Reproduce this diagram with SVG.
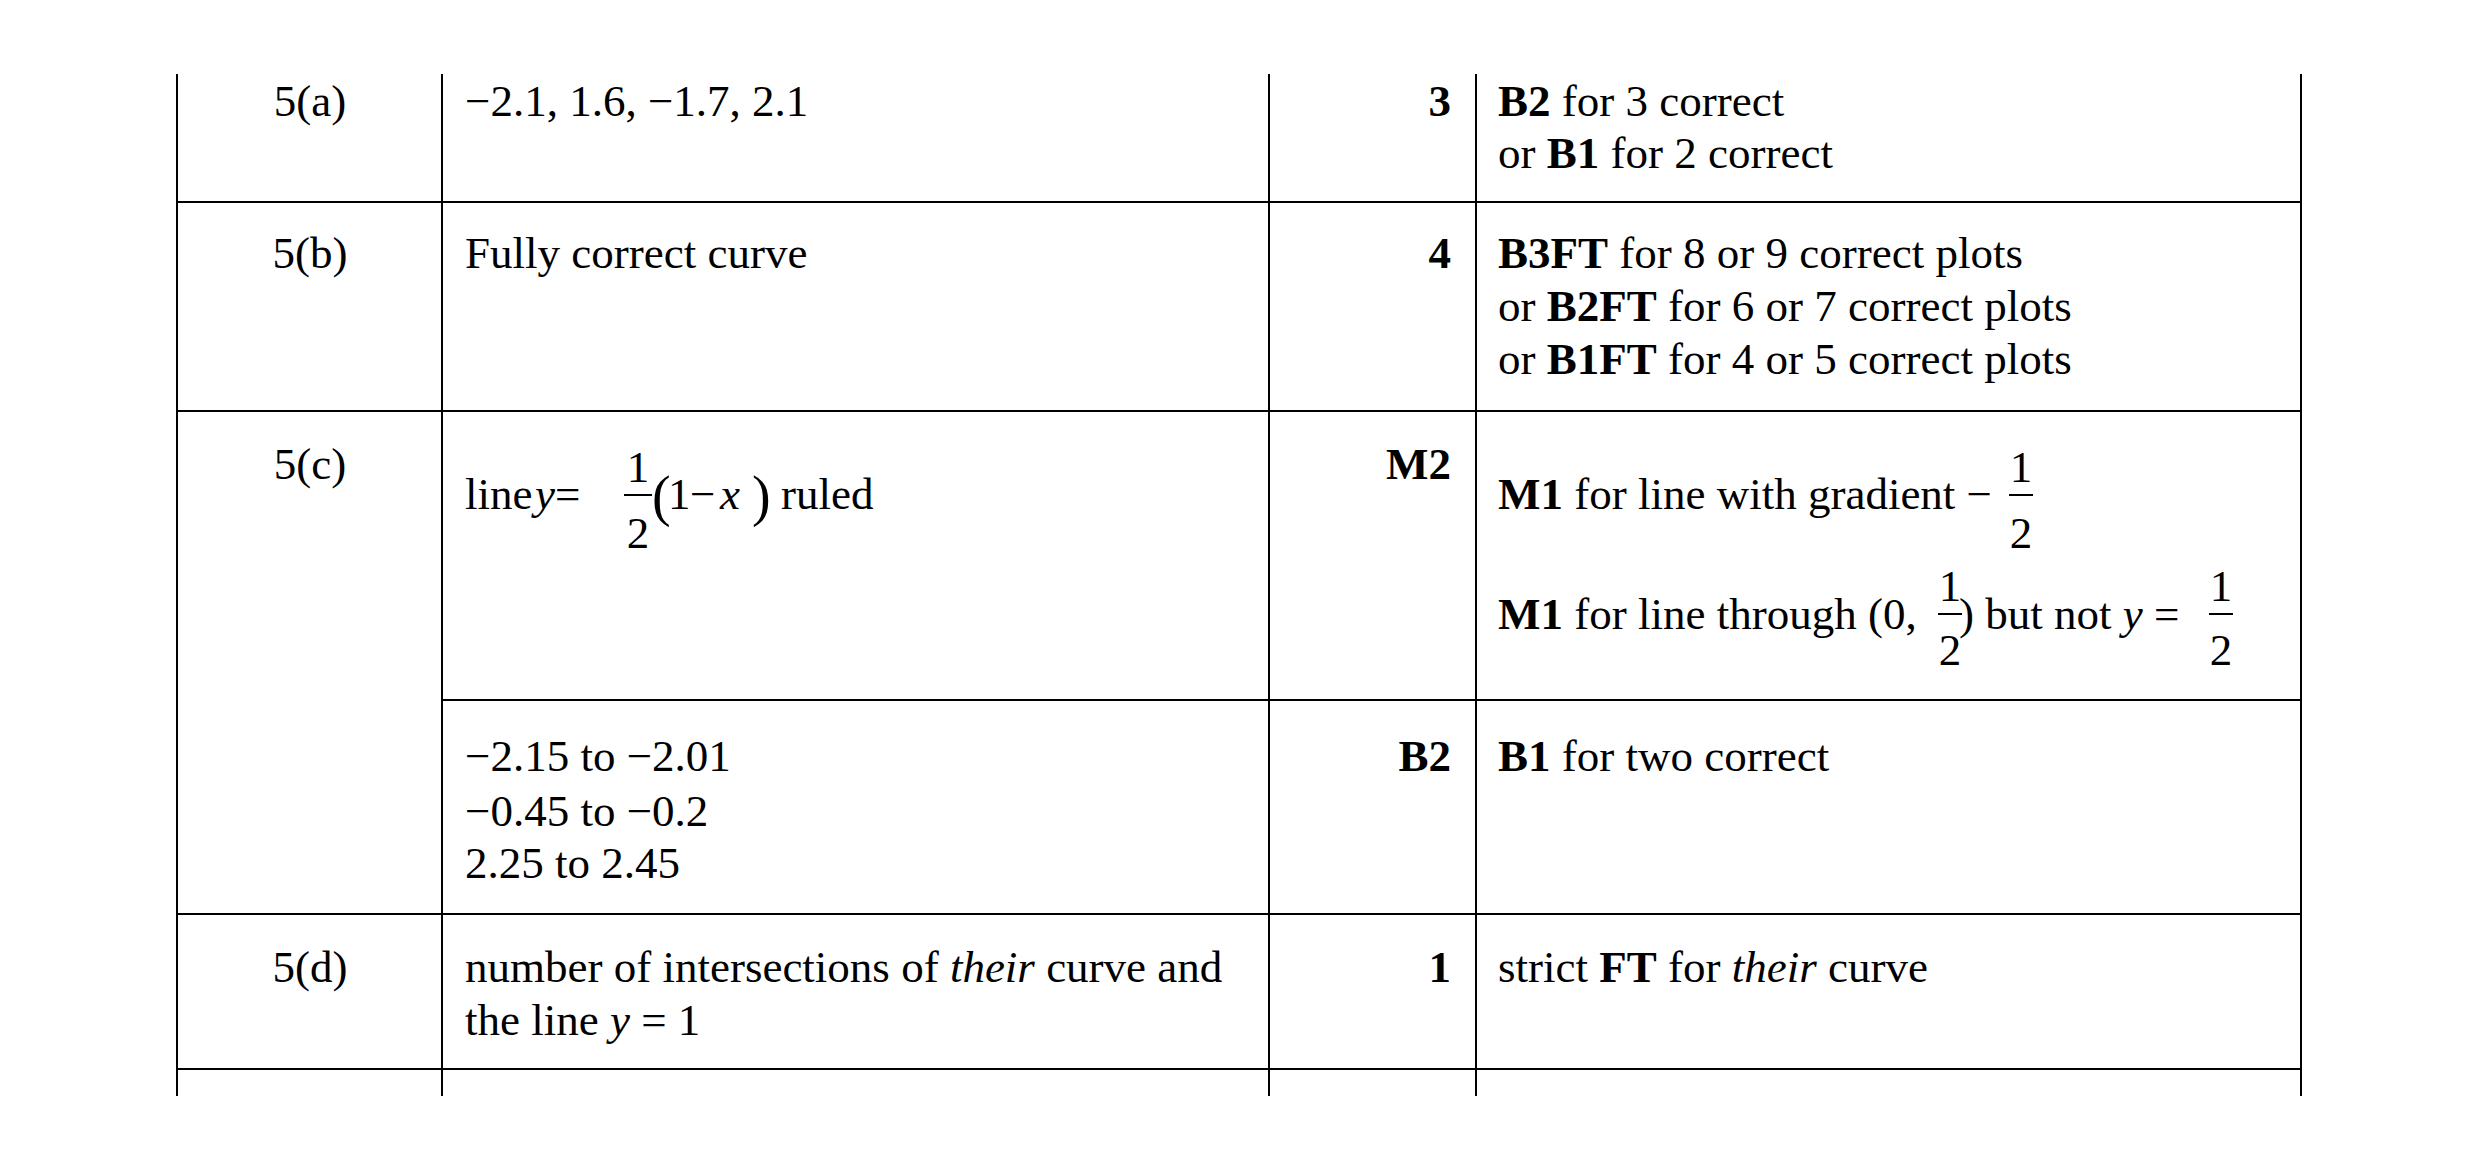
<svg xmlns="http://www.w3.org/2000/svg" width="2480" height="1170" viewBox="0 0 2480 1170">
<style>
text{font-family:"Liberation Serif","Times New Roman",serif;font-size:45px;fill:#000}
.b{font-weight:bold}
.r{text-anchor:end}
.m{text-anchor:middle}
.i{font-style:italic}
line{stroke:#000;stroke-width:2}
</style>
<rect width="2480" height="1170" fill="#fff"/>
<g id="grid">
<line x1="177" y1="74" x2="177" y2="1096"/>
<line x1="442" y1="74" x2="442" y2="1096"/>
<line x1="1269" y1="74" x2="1269" y2="1096"/>
<line x1="1476" y1="74" x2="1476" y2="1096"/>
<line x1="2301" y1="74" x2="2301" y2="1096"/>
<line x1="177" y1="202" x2="2301" y2="202"/>
<line x1="177" y1="411" x2="2301" y2="411"/>
<line x1="442" y1="700" x2="2301" y2="700"/>
<line x1="177" y1="914" x2="2301" y2="914"/>
<line x1="177" y1="1069" x2="2301" y2="1069"/>
</g>
<g id="row-a">
<text x="310" y="116" class="m">5(a)</text>
<text x="465" y="116">−2.1, 1.6, −1.7, 2.1</text>
<text x="1451" y="116" class="r b">3</text>
<text x="1498" y="116"><tspan class="b">B2</tspan> for 3 correct</text>
<text x="1498" y="168">or <tspan class="b">B1</tspan> for 2 correct</text>
</g>
<g id="row-b">
<text x="310" y="268" class="m">5(b)</text>
<text x="465" y="268">Fully correct curve</text>
<text x="1451" y="268" class="r b">4</text>
<text x="1498" y="268"><tspan class="b">B3FT</tspan> for 8 or 9 correct plots</text>
<text x="1498" y="321">or <tspan class="b">B2FT</tspan> for 6 or 7 correct plots</text>
<text x="1498" y="374">or <tspan class="b">B1FT</tspan> for 4 or 5 correct plots</text>
</g>
<g id="row-c">
<text x="310" y="479" class="m">5(c)</text>
<text x="465" y="509">line</text>
<text x="535" y="509" class="i">y</text>
<text x="555" y="509">=</text>
<text x="638" y="482" class="m">1</text>
<line x1="624" y1="495" x2="652" y2="495"/>
<text x="638" y="548" class="m">2</text>
<text x="652" y="515" style="font-size:56px">(</text>
<text x="668" y="509">1</text>
<text x="690" y="509">−</text>
<text x="720" y="509" class="i">x</text>
<text x="752" y="515" style="font-size:56px">)</text>
<text x="781" y="509">ruled</text>
<text x="1451" y="479" class="r b">M2</text>
<text x="1498" y="509"><tspan class="b">M1</tspan> for line with gradient −</text>
<text x="2021" y="482" class="m">1</text>
<line x1="2009" y1="495" x2="2033" y2="495"/>
<text x="2021" y="548" class="m">2</text>
<text x="1498" y="629"><tspan class="b">M1</tspan> for line through  (0,</text>
<text x="1950" y="601" class="m">1</text>
<line x1="1938" y1="614" x2="1962" y2="614"/>
<text x="1950" y="665" class="m">2</text>
<text x="1959" y="629">) but not <tspan class="i">y</tspan> =</text>
<text x="2221" y="601" class="m">1</text>
<line x1="2209" y1="614" x2="2233" y2="614"/>
<text x="2221" y="665" class="m">2</text>
</g>
<g id="row-c2">
<text x="465" y="771">−2.15 to −2.01</text>
<text x="465" y="826">−0.45 to −0.2</text>
<text x="465" y="878">2.25 to 2.45</text>
<text x="1451" y="771" class="r b">B2</text>
<text x="1498" y="771"><tspan class="b">B1</tspan> for two correct</text>
</g>
<g id="row-d">
<text x="310" y="982" class="m">5(d)</text>
<text x="465" y="982">number of intersections of <tspan class="i">their</tspan> curve and</text>
<text x="465" y="1035">the line <tspan class="i">y</tspan> = 1</text>
<text x="1451" y="982" class="r b">1</text>
<text x="1498" y="982">strict <tspan class="b">FT</tspan> for <tspan class="i">their</tspan> curve</text>
</g>
</svg>
